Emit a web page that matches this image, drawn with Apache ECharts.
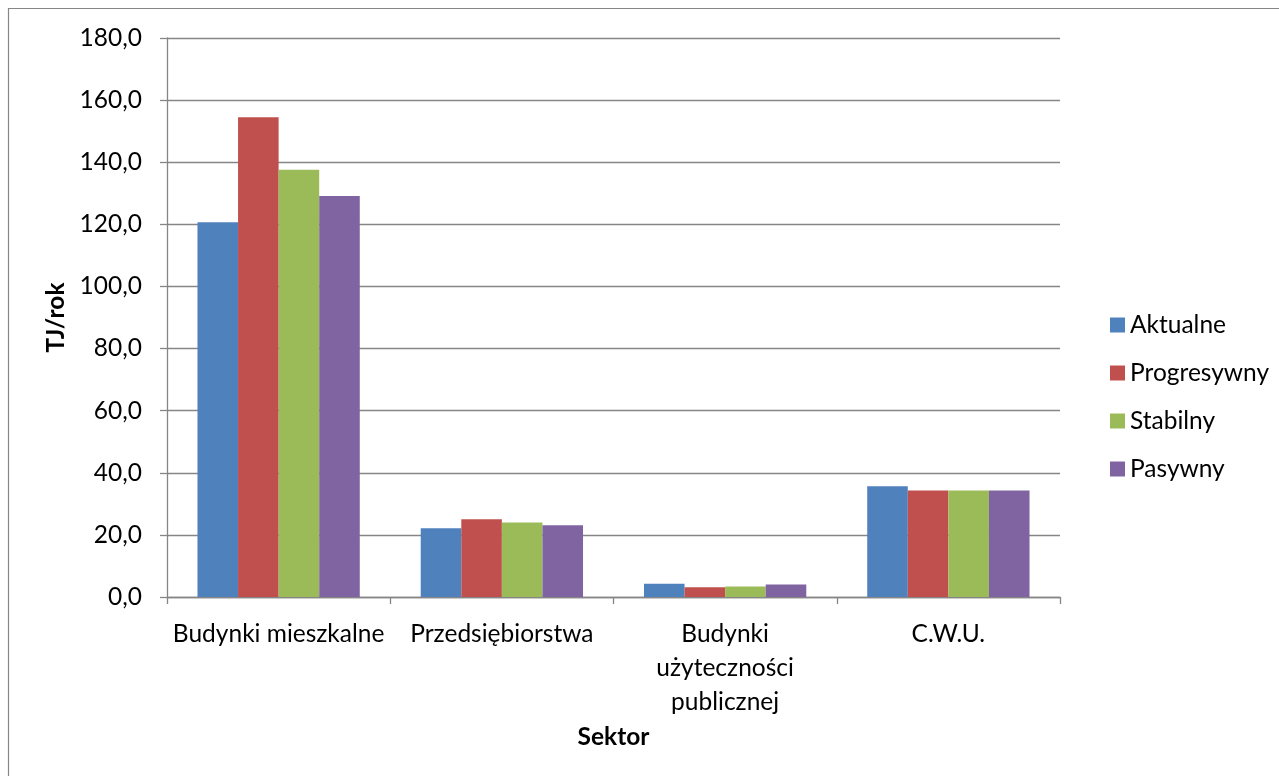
<!DOCTYPE html>
<html>
<head>
<meta charset="utf-8">
<script src="https://cdn.jsdelivr.net/npm/echarts@6/dist/echarts.min.js"></script>
<style>
  html, body { margin: 0; padding: 0; background: #fff; }
  #chart { width: 1279px; height: 776px; }
</style>
</head>
<body>
<div id="chart"></div>
<script>
// Zapotrzebowanie na ciepło w sektorach wg scenariuszy (TJ/rok)
const categories = ['Budynki mieszkalne', 'Przedsiębiorstwa', 'Budynki\nużyteczności\npublicznej', 'C.W.U.'];
const seriesNames = ['Aktualne', 'Progresywny', 'Stabilny', 'Pasywny'];
const aktualne    = [120.7, 22.1, 4.3, 35.7];
const progresywny = [154.5, 25.0, 3.1, 34.3];
const stabilny    = [137.6, 24.0, 3.4, 34.3];
const pasywny     = [129.1, 23.1, 4.0, 34.3];
const yTicks = { min: 0, max: 180, interval: 20 };

const colors = ['#4F81BD', '#C0504D', '#9BBB59', '#8064A2'];
const values = [aktualne, progresywny, stabilny, pasywny];
const FONT = 'Lato';
const FS = 24.5;
const axisGray = '#868686';

const chart = echarts.init(document.getElementById('chart'));
chart.setOption({
  animation: false,
  backgroundColor: '#ffffff',
  textStyle: { fontFamily: FONT, color: '#000' },
  graphic: [{
    type: 'rect',
    shape: { x: 8.5, y: 8.5, width: 1320, height: 820 },
    style: { fill: 'none', stroke: axisGray, lineWidth: 1.2 },
    silent: true
  }],
  grid: { left: 167, right: 219, top: 38, bottom: 179 },
  legend: {
    orient: 'vertical',
    left: 1105,
    top: 305,
    icon: 'rect',
    itemWidth: 15,
    itemHeight: 15,
    itemGap: 18,
    textStyle: { fontFamily: FONT, fontSize: FS, color: '#000', lineHeight: 30 },
    data: seriesNames
  },
  xAxis: {
    type: 'category',
    data: categories,
    name: 'Sektor',
    nameLocation: 'middle',
    nameGap: 128,
    nameTextStyle: { fontFamily: FONT, fontSize: FS, fontWeight: 'bold', color: '#000' },
    axisLine: { lineStyle: { color: axisGray, width: 1.3 } },
    axisTick: { show: true, length: 7, lineStyle: { color: axisGray, width: 1.3 } },
    axisLabel: { fontFamily: FONT, fontSize: FS, color: '#000', margin: 20, lineHeight: 34, interval: 0 }
  },
  yAxis: {
    type: 'value',
    min: yTicks.min,
    max: yTicks.max,
    interval: yTicks.interval,
    name: 'TJ/rok',
    nameLocation: 'middle',
    nameGap: 98,
    nameTextStyle: { fontFamily: FONT, fontSize: FS, fontWeight: 'bold', color: '#000' },
    axisLine: { show: true, lineStyle: { color: axisGray, width: 1.3 } },
    axisTick: { show: true, length: 7, lineStyle: { color: axisGray, width: 1.3 } },
    splitLine: { show: true, lineStyle: { color: axisGray, width: 1.3 } },
    axisLabel: {
      fontFamily: FONT, fontSize: FS, color: '#000', margin: 25,
      formatter: v => v.toFixed(1).replace('.', ',')
    }
  },
  series: seriesNames.map((name, i) => ({
    name: name,
    type: 'bar',
    data: values[i],
    barGap: '0%',
    barCategoryGap: '27.3%',
    itemStyle: { color: colors[i] }
  }))
});
</script>
</body>
</html>
